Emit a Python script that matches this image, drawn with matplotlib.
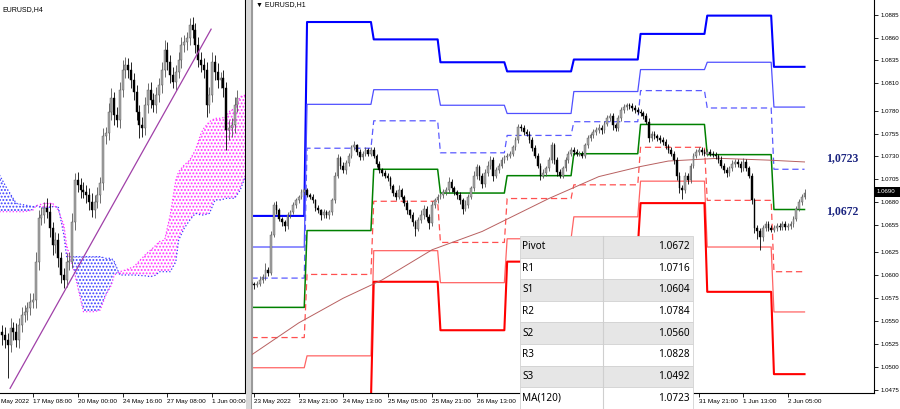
import matplotlib
matplotlib.use('Agg')
import matplotlib.pyplot as plt
from matplotlib.patches import Rectangle
import numpy as np

plt.rcParams['font.family'] = ['Liberation Sans', 'DejaVu Sans']
plt.rcParams['hatch.linewidth'] = 0.9

W, H = 900, 409

#--- H4 chart (left), bar index 0 = 17 May 08:00 ---
h4_first = -11
h4_open0 = 1.0412
h4_close = [1.0408, 1.0402, 1.0396, 1.0416, 1.0412, 1.0402, 1.0420, 1.0432, 1.0436, 1.0440, 1.0448,
            1.0450, 1.0496, 1.0548, 1.0552, 1.0560, 1.0556, 1.0536, 1.0516, 1.0522, 1.0500,
            1.0480, 1.0474, 1.0496, 1.0496, 1.0544, 1.0594, 1.0588, 1.0582, 1.0580, 1.0576,
            1.0568, 1.0558, 1.0568, 1.0576, 1.0590, 1.0647, 1.0650, 1.0676, 1.0692, 1.0672,
            1.0666, 1.0702, 1.0726, 1.0732, 1.0726, 1.0714, 1.0700, 1.0676, 1.0660, 1.0656,
            1.0684, 1.0702, 1.0690, 1.0684, 1.0696, 1.0708, 1.0726, 1.0750, 1.0736, 1.0720,
            1.0712, 1.0724, 1.0738, 1.0756, 1.0760, 1.0764, 1.0780, 1.0774, 1.0756, 1.0738,
            1.0732, 1.0726, 1.0684, 1.0696, 1.0736, 1.0724, 1.0714, 1.0716, 1.0704, 1.0654,
            1.0656, 1.0660, 1.0684, 1.0692]
# wick sizes in pips
h4_up = [8, 10, 8, 12, 8, 10, 8, 10, 8, 8, 10,
         8, 12, 10, 10, 8, 12, 10, 8, 10, 8, 8, 8, 10, 12, 10, 8, 10, 8, 10, 8,
         8, 10, 8, 10, 8, 10, 8, 10, 12, 8, 10, 10, 12, 10, 8, 10, 8, 8, 8, 10,
         10, 8, 10, 8, 10, 8, 10, 12, 10, 8, 10, 8, 10, 10, 8, 8, 8, 10, 8, 10,
         10, 8, 10, 10, 12, 8, 10, 8, 10, 8, 10, 8, 10, 10]
h4_dn = [12, 10, 40, 8, 10, 8, 10, 8, 8, 10, 8,
         8, 10, 10, 8, 10, 8, 10, 12, 10, 10, 10, 10, 8, 10, 8, 10, 8, 10, 8, 10,
         10, 8, 10, 8, 10, 8, 10, 8, 10, 12, 8, 10, 8, 10, 10, 10, 10, 10, 16, 10,
         8, 10, 10, 8, 10, 8, 10, 8, 10, 10, 8, 10, 8, 10, 8, 10, 8, 10, 10, 8,
         8, 10, 14, 10, 8, 10, 10, 10, 10, 24, 12, 10, 10, 8]

# Ichimoku cloud (read at some bars)
cloud_bar = [-12, -9, -6, -3, 0, 1, 4, 7, 9, 11, 12, 15, 18, 22, 24, 26, 28, 29, 31, 33, 36,
             40, 42, 44, 45, 47, 49, 51, 52, 54, 56, 58, 60, 61, 63, 65, 67, 69, 70, 72, 74, 76]
span_a = [1.0600, 1.0582, 1.0566, 1.0564, 1.0562, 1.0563, 1.0560, 1.0562, 1.0562, 1.0528, 1.0502,
          1.0502, 1.0502, 1.0502, 1.0502, 1.0500, 1.0500, 1.0496, 1.0480, 1.0480, 1.0480,
          1.0479, 1.0478, 1.0480, 1.0484, 1.0484, 1.0484, 1.0496, 1.0522, 1.0536, 1.0546,
          1.0554, 1.0552, 1.0552, 1.0554, 1.0570, 1.0570, 1.0572, 1.0572, 1.0572, 1.0582, 1.0600]
span_b = [1.0556, 1.0556, 1.0556, 1.0556, 1.0558, 1.0563, 1.0566, 1.0566, 1.0558, 1.0540, 1.0516,
          1.0480, 1.0436, 1.0436, 1.0438, 1.0456, 1.0468, 1.0480, 1.0484, 1.0486, 1.0490,
          1.0504, 1.0510, 1.0516, 1.0520, 1.0522, 1.0552, 1.0594, 1.0604, 1.0612, 1.0618,
          1.0630, 1.0650, 1.0656, 1.0664, 1.0668, 1.0668, 1.0670, 1.0676, 1.0680, 1.0694, 1.0696]

trend_bar = [-8.2, 63.6]
trend_val = [1.0344, 1.0775]

h4_tick_bar = [0, 16, 32, 48, 64]
h4_tick_lab = ['17 May 08:00', '20 May 00:00', '24 May 16:00', '27 May 08:00', '1 Jun 00:00']
h4_first_lab = 'May 2022'

#--- H1 chart (right), bar index 0 = 24 May 00:00 ---
h1_first = -20
h1_open0 = 1.0593
h1_close = [1.0591, 1.0589, 1.0591, 1.0595, 1.0598, 1.0606, 1.0603, 1.0644, 1.0677, 1.0671,
            1.0662, 1.0658, 1.0654, 1.0666, 1.0669, 1.0677, 1.0682, 1.0686, 1.0691, 1.0693,
            1.0688, 1.0686, 1.0682, 1.0674, 1.0671, 1.0666, 1.0669, 1.0666, 1.0669, 1.0682,
            1.0709, 1.0728, 1.0720, 1.0715, 1.0723, 1.0731, 1.0740, 1.0742, 1.0735, 1.0729,
            1.0733, 1.0737, 1.0733, 1.0737, 1.0731, 1.0722, 1.0715, 1.0712, 1.0709, 1.0706,
            1.0698, 1.0690, 1.0686, 1.0693, 1.0686, 1.0679, 1.0671, 1.0666, 1.0658, 1.0651,
            1.0660, 1.0666, 1.0673, 1.0664, 1.0657, 1.0677, 1.0682, 1.0686, 1.0688, 1.0691,
            1.0693, 1.0702, 1.0695, 1.0691, 1.0688, 1.0682, 1.0673, 1.0677, 1.0686, 1.0695,
            1.0709, 1.0718, 1.0709, 1.0700, 1.0712, 1.0720, 1.0726, 1.0709, 1.0715, 1.0720,
            1.0726, 1.0729, 1.0731, 1.0733, 1.0740, 1.0748, 1.0762, 1.0761, 1.0757, 1.0755,
            1.0748, 1.0739, 1.0731, 1.0720, 1.0709, 1.0712, 1.0717, 1.0726, 1.0742, 1.0726,
            1.0713, 1.0709, 1.0717, 1.0726, 1.0733, 1.0737, 1.0735, 1.0733, 1.0733, 1.0731,
            1.0742, 1.0750, 1.0753, 1.0757, 1.0759, 1.0761, 1.0759, 1.0766, 1.0772, 1.0774,
            1.0764, 1.0761, 1.0772, 1.0781, 1.0784, 1.0786, 1.0785, 1.0783, 1.0781, 1.0779,
            1.0777, 1.0774, 1.0768, 1.0750, 1.0755, 1.0752, 1.0750, 1.0748, 1.0746, 1.0741,
            1.0737, 1.0733, 1.0726, 1.0709, 1.0696, 1.0693, 1.0709, 1.0704, 1.0720, 1.0731,
            1.0735, 1.0737, 1.0735, 1.0733, 1.0735, 1.0733, 1.0732, 1.0730, 1.0726, 1.0720,
            1.0715, 1.0712, 1.0717, 1.0722, 1.0724, 1.0722, 1.0717, 1.0724, 1.0717, 1.0709,
            1.0682, 1.0652, 1.0648, 1.0642, 1.0652, 1.0656, 1.0652, 1.0650, 1.0652, 1.0654,
            1.0653, 1.0656, 1.0653, 1.0654, 1.0656, 1.0662, 1.0673, 1.0680, 1.0686, 1.0690]
h1_up = [3, 2, 3, 4, 3, 8, 3, 4, 3, 4, 3, 2, 3, 3, 2, 3, 3, 2, 3, 3,
         3, 2, 3, 2, 3, 2, 4, 3, 2, 3, 4, 5, 3, 4, 3, 3, 3, 5, 2, 3,
         3, 3, 2, 3, 3, 2, 3, 2, 3, 3, 3, 2, 3, 6, 3, 2, 3, 2, 3, 3,
         4, 5, 4, 3, 3, 4, 3, 3, 2, 3, 4, 6, 3, 3, 2, 3, 3, 5, 3, 3,
         5, 4, 3, 3, 4, 5, 4, 3, 4, 3, 3, 3, 3, 3, 3, 3, 3, 4, 3, 3,
         3, 3, 3, 3, 3, 4, 3, 3, 4, 3, 3, 3, 3, 3, 3, 3, 3, 3, 3, 3,
         3, 3, 3, 3, 3, 4, 3, 3, 3, 3, 3, 3, 3, 3, 3, 3, 3, 3, 3, 3,
         3, 3, 3, 4, 3, 3, 3, 3, 3, 3, 3, 3, 3, 3, 4, 3, 4, 3, 3, 3,
         3, 3, 3, 3, 3, 3, 3, 3, 3, 4, 3, 3, 3, 4, 3, 3, 3, 4, 3, 3,
         3, 3, 3, 4, 3, 3, 3, 3, 3, 3, 3, 3, 3, 3, 3, 3, 3, 3, 3, 4]
h1_dn = [3, 4, 2, 3, 3, 3, 4, 3, 2, 4, 3, 4, 6, 3, 3, 2, 3, 3, 2, 3,
         2, 3, 3, 4, 3, 5, 3, 3, 4, 3, 3, 3, 4, 3, 4, 3, 3, 3, 3, 3,
         3, 3, 3, 2, 3, 4, 3, 3, 3, 3, 4, 3, 4, 3, 3, 3, 4, 3, 4, 8,
         3, 3, 4, 5, 6, 3, 3, 3, 3, 3, 3, 3, 4, 3, 4, 4, 6, 3, 3, 3,
         3, 4, 5, 5, 3, 3, 4, 6, 3, 3, 3, 3, 3, 3, 3, 3, 3, 3, 3, 3,
         3, 3, 3, 3, 5, 3, 3, 3, 3, 4, 4, 3, 3, 3, 3, 3, 3, 3, 3, 3,
         3, 3, 3, 3, 3, 3, 4, 3, 3, 3, 5, 3, 3, 3, 3, 3, 3, 3, 3, 3,
         3, 3, 3, 4, 3, 3, 3, 3, 3, 3, 3, 3, 4, 5, 6, 10, 3, 4, 3, 3,
         3, 3, 3, 3, 3, 3, 3, 3, 3, 3, 3, 4, 3, 3, 3, 3, 4, 3, 3, 3,
         4, 6, 8, 14, 4, 3, 3, 3, 3, 3, 3, 3, 3, 3, 3, 3, 3, 3, 3, 3]

# daily pivot levels: 23 May .. 2 Jun
day_start = [-20, 0, 24, 48, 72, 96, 120, 144, 168]
last_bar = 179
lev_pivot = [1.0565, 1.0649, 1.0716, 1.0690, 1.0709, 1.0733, 1.0765, 1.0732, 1.0672]
lev_r1 = [1.0597, 1.0739, 1.0769, 1.0734, 1.0753, 1.0768, 1.0802, 1.0783, 1.0716]
lev_s1 = [1.0532, 1.0601, 1.0681, 1.0636, 1.0684, 1.0699, 1.0740, 1.0682, 1.0604]
lev_r2 = [1.0631, 1.0787, 1.0803, 1.0786, 1.0777, 1.0801, 1.0825, 1.0833, 1.0784]
lev_s2 = [1.0499, 1.0512, 1.0627, 1.0592, 1.0640, 1.0664, 1.0703, 1.0631, 1.0560]
lev_r3 = [1.0665, 1.0877, 1.0858, 1.0833, 1.0823, 1.0836, 1.0864, 1.0884, 1.0828]
lev_s3 = [1.0467, 1.0463, 1.0593, 1.0540, 1.0615, 1.0630, 1.0679, 1.0582, 1.0492]

ma_bar = [-20, -3, 13, 27, 45, 63, 87, 105, 120, 130, 148, 166, 179]
ma_val = [1.0513, 1.0548, 1.0575, 1.0595, 1.0628, 1.0648, 1.0684, 1.0708, 1.0719, 1.0725,
          1.0728, 1.0726, 1.0724]

# labels under the table are hidden in the terminal, so left blank
h1_tick_bar = [-19, -3, 13, 29, 45, 61, 77, 93, 109, 125, 141, 157, 173]
h1_tick_lab = ['23 May 2022', '23 May 21:00', '24 May 13:00', '25 May 05:00', '25 May 21:00',
               '26 May 13:00', '', '', '', '',
               '31 May 21:00', '1 Jun 13:00', '2 Jun 05:00']
price_ticks = [1.0885, 1.0860, 1.0835, 1.0810, 1.0780, 1.0755, 1.0730, 1.0705, 1.0680,
               1.0655, 1.0625, 1.0600, 1.0575, 1.0550, 1.0525, 1.0500, 1.0475]
last_price = '1.0690'

table_names = ['Pivot', 'R1', 'S1', 'R2', 'S2', 'R3', 'S3', 'MA(120)']
table_values = ['1.0672', '1.0716', '1.0604', '1.0784', '1.0560', '1.0828', '1.0492', '1.0723']

#############################################################

BullFace = '#a8a8a8'
BullEdge = '#555555'
BearFace = 'black'
AxisFont = 4.6


def draw_candles(ax, first, open0, closes, up, dn, pip, width):
    idx = np.arange(first, first + len(closes))
    cc = np.array(closes)
    oo = np.concatenate([[open0], cc[:-1]])
    top = np.maximum(oo, cc)
    bot = np.minimum(oo, cc)
    hi = top + np.array(up) * pip
    lo = bot - np.array(dn) * pip
    bull = cc >= oo
    face = np.where(bull, BullFace, BearFace)
    edge = np.where(bull, BullEdge, BearFace)
    ax.vlines(idx, lo, hi, colors=edge, lw=0.6, zorder=4)
    ax.bar(idx, np.maximum(top - bot, 0.00006), width, bot, color=face,
           edgecolor=edge, linewidth=0.3, zorder=5)


def px_axes(x0, y0, x1, y1):
    return fig.add_axes([x0 / W, 1 - y1 / H, (x1 - x0) / W, (y1 - y0) / H])


fig = plt.figure(figsize=(W / 100, H / 100), dpi=100)
fig.patch.set_facecolor('white')

#############################################################
#              LEFT: EURUSD H4

ax1 = px_axes(0, 0, 245, 393)
ax1.set_xlim(-11.8, 75.7)
ax1.set_ylim(1.03384, 1.0810)

cb = np.array(cloud_bar)
sa = np.array(span_a)
sb = np.array(span_b)
ax1.fill_between(cb, sa, sb, where=sa >= sb, interpolate=True, facecolor='none',
                 edgecolor='#3c3cff', hatch='.....', linewidth=0, zorder=1)
ax1.fill_between(cb, sa, sb, where=sa < sb, interpolate=True, facecolor='none',
                 edgecolor='#ff33ff', hatch='.....', linewidth=0, zorder=1)
ax1.plot(cb, sa, color='#3c3cff', ls=':', lw=0.9, zorder=2)
ax1.plot(cb, sb, color='#ff33ff', ls=':', lw=0.9, zorder=2)

draw_candles(ax1, h4_first, h4_open0, h4_close, h4_up, h4_dn, 0.0001, 0.7)
ax1.plot(trend_bar, trend_val, color='#a040a8', lw=0.9, zorder=6)

ax1.set_yticks([])
ax1.set_xticks(h4_tick_bar)
ax1.set_xticklabels(h4_tick_lab, fontsize=AxisFont, ha='left')
ax1.tick_params(axis='x', direction='out', length=3, width=0.6, pad=1.5)
fig.text(1 / W, 1 - 401 / H, h4_first_lab, fontsize=AxisFont, ha='left', va='center')
for sp in ['top', 'left']:
    ax1.spines[sp].set_visible(False)
for sp in ['right', 'bottom']:
    ax1.spines[sp].set_linewidth(0.8)
ax1.text(0.008, 0.985, 'EURUSD,H4', transform=ax1.transAxes, fontsize=5,
         ha='left', va='top')

# window separator
fig.patches.append(Rectangle((246 / W, 0), 5 / W, 1, transform=fig.transFigure,
                             facecolor='#d8d8d8', edgecolor='none'))
fig.patches.append(Rectangle((250.5 / W, 0), 1 / W, 1, transform=fig.transFigure,
                             facecolor='#9a9a9a', edgecolor='none'))

#############################################################
#              RIGHT: EURUSD H1

ax2 = px_axes(252, 0, 874, 393)
ax2.set_xlim(-19.8, 204)
ax2.set_ylim(1.047138, 1.090107)

# pivot step lines
bars = np.arange(day_start[0], last_bar + 1)
ends = day_start[1:] + [last_bar + 1]


def per_bar(levels):
    out = []
    for v, s, e in zip(levels, day_start, ends):
        out += [v] * (e - s)
    return np.array(out)


ax2.plot(bars, per_bar(lev_r3), color='#0000ff', lw=1.5, zorder=2)
ax2.plot(bars, per_bar(lev_r2), color='#5050ff', lw=0.9, zorder=2)
ax2.plot(bars, per_bar(lev_r1), color='#5a5aff', lw=0.9, ls=(0, (5, 3)), zorder=2)
ax2.plot(bars, per_bar(lev_pivot), color='#008000', lw=1.1, zorder=2)
ax2.plot(bars, per_bar(lev_s1), color='#ff5050', lw=0.9, ls=(0, (5, 3)), zorder=2)
ax2.plot(bars, per_bar(lev_s2), color='#ff6464', lw=0.9, zorder=2)
ax2.plot(bars, per_bar(lev_s3), color='#ff0000', lw=1.5, zorder=2)
ax2.plot(ma_bar, ma_val, color='#b86060', lw=0.7, zorder=3)

draw_candles(ax2, h1_first, h1_open0, h1_close, h1_up, h1_dn, 0.0001, 0.6)

ax2.yaxis.tick_right()
ax2.set_yticks(price_ticks)
ax2.set_yticklabels(['%.4f' % v for v in price_ticks], fontsize=4.4)
ax2.tick_params(axis='y', direction='out', length=3, width=0.6, pad=1.5)
ax2.set_xticks(h1_tick_bar)
ax2.set_xticklabels(h1_tick_lab, fontsize=AxisFont, ha='left')
ax2.tick_params(axis='x', direction='out', length=3, width=0.6, pad=1.5)
ax2.spines['top'].set_visible(False)
ax2.spines['left'].set_color('#9a9a9a')
for sp in ['right', 'bottom']:
    ax2.spines[sp].set_linewidth(0.8)

fig.text(256 / W, 1 - 5 / H, '\u25bc EURUSD,H1', fontsize=5, ha='left', va='center')

# current price tag
fig.patches.append(Rectangle((875 / W, 1 - 197 / H), 25 / W, 10 / H,
                             transform=fig.transFigure, facecolor='black',
                             edgecolor='none', zorder=10))
fig.text(877 / W, 1 - 192 / H, last_price, fontsize=4.4, color='white',
         ha='left', va='center', zorder=11)

# level labels
fig.text(826 / W, 1 - 158 / H, '1,0723', fontsize=8.5, fontweight='bold',
         family='Liberation Serif', color='#1c2580', ha='left', va='center')
fig.text(826 / W, 1 - 211 / H, '1,0672', fontsize=8.5, fontweight='bold',
         family='Liberation Serif', color='#1c2580', ha='left', va='center')

# values table
tx0, tx1, tdiv = 520, 693, 603
ty0, row_h = 236, 21.6
for k, (nm, vv) in enumerate(zip(table_names, table_values)):
    yt = ty0 + k * row_h
    face = '#e6e6e6' if k % 2 == 0 else 'white'
    fig.patches.append(Rectangle((tx0 / W, 1 - (yt + row_h) / H), (tx1 - tx0) / W,
                                 row_h / H, transform=fig.transFigure, facecolor=face,
                                 edgecolor='#d2d2d2', linewidth=0.6, zorder=20))
    fig.text((tx0 + 2) / W, 1 - (yt + row_h / 2) / H, nm, fontsize=7.2,
             family='Noto Sans', ha='left', va='center', zorder=21)
    fig.text((tx1 - 3) / W, 1 - (yt + row_h / 2) / H, vv, fontsize=7.2,
             family='Noto Sans', ha='right', va='center', zorder=21)
fig.lines.append(plt.Line2D([tdiv / W, tdiv / W], [1 - ty0 / H, 0],
                            transform=fig.transFigure, color='#cfcfcf', lw=0.8, zorder=22))

plt.savefig('out.png', dpi=100)
plt.close()
